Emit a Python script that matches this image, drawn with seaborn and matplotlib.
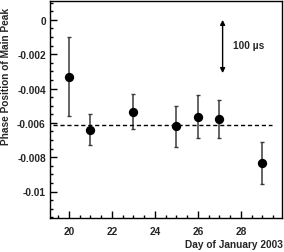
import numpy as np
import matplotlib
matplotlib.use("Agg")
import matplotlib.pyplot as plt
import seaborn as sns
from matplotlib.ticker import MultipleLocator, FixedLocator

sns.set_style("ticks")
plt.rcParams['font.family'] = ['Liberation Sans', 'DejaVu Sans']

# data
days = [20, 21, 23, 25, 26, 27, 29]
phase = [-0.0033, -0.0064, -0.00537, -0.0062, -0.00566, -0.00577, -0.00833]
err_up = [0.00233, 0.00092, 0.00105, 0.00116, 0.00126, 0.00108, 0.0012]
err_down = [0.00232, 0.00087, 0.00099, 0.0012, 0.00122, 0.00111, 0.00122]
mean_level = -0.0061
ytick_vals = [0, -0.002, -0.004, -0.006, -0.008, -0.01]
ytick_labels = ["0", "-0.002", "-0.004", "-0.006", "-0.008", "-0.01"]
xtick_vals = [20, 22, 24, 26, 28]

fig = plt.figure(figsize=(2.84, 2.53), dpi=100)
ax = fig.add_axes([0.176, 0.134, 0.816, 0.858])

ax.errorbar(days, phase, yerr=[err_down, err_up], fmt="none",
            ecolor="#3a3a3a", elinewidth=1.1, capsize=1.5, capthick=1)
sns.scatterplot(x=days, y=phase, ax=ax, color="black", s=45,
                edgecolor="black", linewidth=0, zorder=3)

ax.hlines(mean_level, 19.25, 29.45, colors="black", linestyles=(0, (3, 2)),
          linewidth=1)

# 100 us scale arrow
ax.annotate("", xy=(27.15, 0.0), xytext=(27.15, -0.0031),
            arrowprops=dict(arrowstyle="<|-|>", color="black", lw=1,
                            mutation_scale=7, shrinkA=0, shrinkB=0))
ax.text(27.62, -0.00145, "100 µs", fontsize=7.3, fontweight="bold",
        va="center", ha="left")

ax.set_xlim(19.12, 29.9)
ax.set_ylim(-0.01155, 0.0011)
ax.xaxis.set_major_locator(FixedLocator(xtick_vals))
ax.xaxis.set_minor_locator(MultipleLocator(0.5))
ax.set_yticks(ytick_vals)
ax.set_yticklabels(ytick_labels)
ax.yaxis.set_minor_locator(MultipleLocator(0.0005))
ax.tick_params(which="both", direction="in", top=False, right=False,
               labelsize=7.3, width=1, color="black")
ax.tick_params(which="major", length=5)
ax.tick_params(axis="y", which="major", pad=3)
ax.tick_params(axis="x", which="major", pad=6)
ax.tick_params(which="minor", length=2.5)
for lab in ax.get_xticklabels() + ax.get_yticklabels():
    lab.set_fontweight("bold")
for s in ax.spines.values():
    s.set_linewidth(1)
    s.set_color("black")

fig.text(0.995, 0.03, "Day of January 2003", fontsize=7.3, fontweight="bold",
         ha="right", va="center")
fig.text(0.02, 0.427, "Phase Position of Main Peak", fontsize=7.3,
         fontweight="bold", rotation=90, ha="center", va="bottom")

fig.savefig("out.png", dpi=100)
